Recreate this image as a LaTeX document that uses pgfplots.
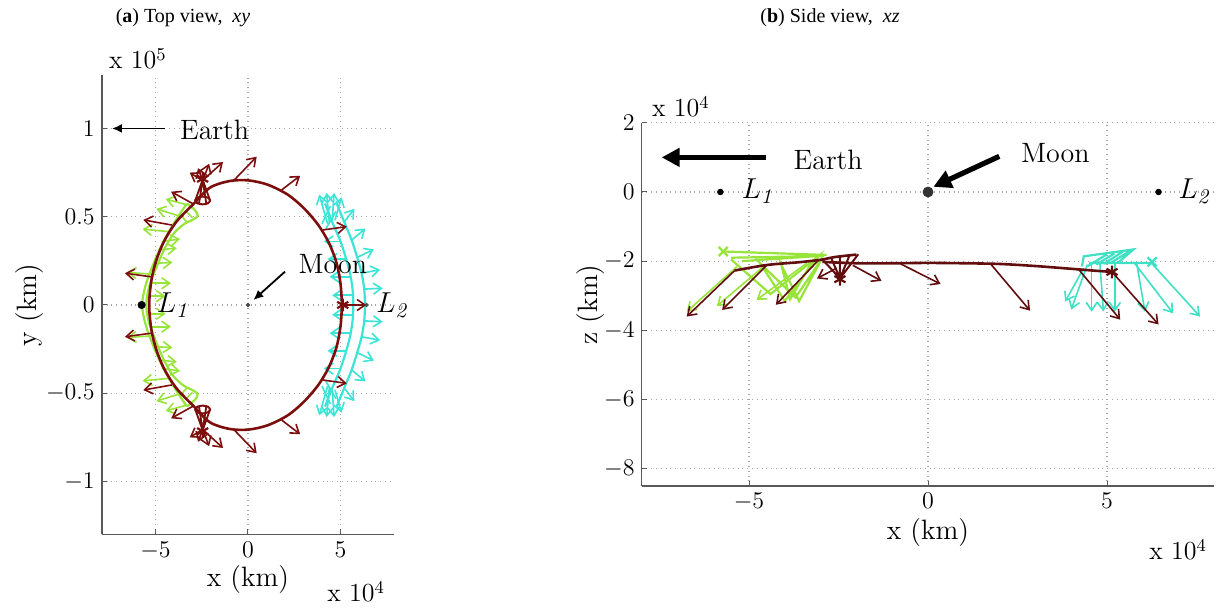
\documentclass[border=0pt]{standalone}
\usepackage{fontspec}
\usepackage{pgfplots}
\usepackage{pgfplotstable}
\pgfplotsset{compat=1.18}
\usetikzlibrary{arrows.meta}
\newfontfamily\tnr{Liberation Serif}

\definecolor{orbit}{RGB}{125,14,14}
\definecolor{orbitdk}{RGB}{98,14,14}
\definecolor{lime}{RGB}{152,228,58}
\definecolor{aqua}{RGB}{58,228,214}
\definecolor{aquab}{RGB}{64,224,196}

% all coordinates in units of 10^4 km
\pgfplotstableread{
x y
5.08 0
5.00 1.2
4.78 2.4
4.38 3.5
3.82 4.5
3.05 5.45
2.15 6.25
1.05 6.82
0.00 7.06
-1.00 7.02
-2.05 6.65
-2.95 5.72
-3.85 4.74
-4.50 3.68
-4.95 2.55
-5.22 1.40
-5.34 0
-5.22 -1.40
-4.95 -2.55
-4.50 -3.68
-3.85 -4.74
-2.95 -5.72
-2.05 -6.65
-1.00 -7.02
0.00 -7.06
1.05 -6.82
2.15 -6.25
3.05 -5.45
3.82 -4.5
4.38 -3.5
4.78 -2.4
5.00 -1.2
5.08 0
}\orbitxy

\pgfplotstableread{
x y u v
-0.80 7.02 1.27 1.38
1.82 6.52 1.00 0.80
-2.45 7.05 -0.70 0.45
-2.45 7.05 0.35 0.95
-2.45 7.05 1.10 1.05
-2.45 7.05 -0.25 0.70
-2.95 5.72 -1.20 0.70
-4.12 4.53 -1.54 0.29
-5.25 1.60 -1.40 0.20
4.05 4.25 1.29 0.19
5.10 0.00 1.30 0.00
-0.80 -7.02 1.27 -1.38
1.82 -6.52 1.00 -0.80
-2.45 -7.05 -0.70 -0.45
-2.45 -7.05 0.35 -0.95
-2.45 -7.05 1.10 -1.05
-2.45 -7.05 -0.25 -0.70
-2.95 -5.72 -1.20 -0.70
-4.12 -4.53 -1.54 -0.29
-5.25 -1.60 -1.40 -0.20
4.05 -4.25 1.29 -0.19
}\orbitarrowsxy

\pgfplotstableread{
x y u v
-3.40 5.70 -1.05 0.30
-3.75 5.05 -1.20 0.40
-4.25 4.15 -1.45 0.15
-5.25 1.75 -1.30 0.10
-4.67 3.59 1.00 0.15
-4.85 3.12 1.00 0.10
-5.03 2.36 0.95 0.05
-5.21 1.23 1.05 0.00
-5.45 0.50 1.00 0.00
-3.40 -5.70 -1.05 -0.30
-3.75 -5.05 -1.20 -0.40
-4.25 -4.15 -1.45 -0.15
-5.25 -1.75 -1.30 -0.10
-4.67 -3.59 1.00 -0.15
-4.85 -3.12 1.00 -0.10
-5.03 -2.36 0.95 -0.05
-5.21 -1.23 1.05 0.00
-5.45 -0.50 1.00 0.00
}\limearrowsxy

\pgfplotstableread{
x y u v
4.30 4.60 -0.45 1.65
4.40 4.60 -0.15 1.75
4.55 4.70 0.10 1.65
4.70 4.80 0.35 1.30
5.20 4.70 0.55 0.75
5.60 3.68 0.75 0.65
5.90 2.70 0.90 0.45
6.14 1.80 1.00 0.20
6.28 0.90 1.00 0.05
5.00 3.60 -0.90 0.00
5.30 2.60 -1.00 0.00
5.51 1.60 -1.10 0.00
5.65 0.55 -1.10 0.00
4.30 -4.60 -0.45 -1.65
4.40 -4.60 -0.15 -1.75
4.55 -4.70 0.10 -1.65
4.70 -4.80 0.35 -1.30
5.20 -4.70 0.55 -0.75
5.60 -3.68 0.75 -0.65
5.90 -2.70 0.90 -0.45
6.14 -1.80 1.00 -0.20
6.28 -0.90 1.00 -0.05
5.00 -3.60 -0.90 0.00
5.30 -2.60 -1.00 0.00
5.51 -1.60 -1.10 0.00
5.65 -0.55 -1.10 0.00
}\aquaarrowsxy

\pgfplotstableread{
x z u v
-5.40 -2.27 -1.34 -1.33
-4.50 -2.11 -1.25 -1.30
-3.05 -1.96 -1.20 -1.30
-2.55 -2.20 -0.55 -0.30
-2.10 -2.12 0.80 -0.45
-0.80 -2.06 1.15 -0.60
1.75 -2.08 1.10 -1.35
4.21 -2.24 1.16 -1.45
5.14 -2.31 1.30 -1.52
}\orbitarrowsxz

\pgfplotstableread{
x z u v
-5.34 -2.16 -1.40 -1.30
-4.60 -2.16 -1.30 -1.14
-3.39 -2.06 -1.40 -1.06
}\limearrowsxz

\pgfplotstableread{
x z u v
4.35 -2.20 -0.52 -0.97
4.45 -2.10 -0.45 -1.30
4.57 -2.10 0.00 -1.36
4.80 -2.05 0.10 -1.40
5.22 -2.06 0.00 -1.40
5.83 -2.06 0.23 -1.40
5.74 -2.02 1.11 -1.49
6.21 -2.02 1.39 -1.58
}\aquaarrowsxz

\pgfplotsset{
  panel/.style={
    scale only axis, anchor=south west, clip=false,
    axis x line*=bottom, axis y line*=left,
    axis line style={black!65, line width=0.7pt},
    tick align=inside, major tick length=2.5pt,
    tick style={black!65, line width=0.5pt},
    grid=major, major grid style={black!35, dotted, line width=0.6pt},
    tick label style={font=\fontsize{13}{15}\selectfont},
    label style={font=\fontsize{14}{16}\selectfont},
    xtick={-5,0,5},
    scaled ticks=false,
  },
  qv/.style={quiver={u=\thisrow{u},v=\thisrow{v}},
    line width=0.8pt, -{Straight Barb[length=4pt,width=5.5pt]}},
}

\begin{document}
\begin{tikzpicture}
\useasboundingbox (0,0) rectangle (610pt,304.5pt);

\node[font=\tnr\fontsize{10}{12}\selectfont] at (91.5pt,295.5pt) {(\textbf{a}) Top view,\ \ \textit{xy}};
\node[font=\tnr\fontsize{10}{12}\selectfont] at (415pt,295.5pt) {(\textbf{b}) Side view,\ \ \textit{xz}};

% ---------------- top view ----------------
\begin{axis}[panel,
  at={(50.9pt,37.25pt)}, width=146.2pt, height=229.5pt,
  xmin=-7.9, xmax=7.9, ymin=-13, ymax=13,
  ytick={-10,-5,0,5,10},
  yticklabels={$-1$,$-0.5$,$0$,$0.5$,$1$},
  xlabel={x (km)}, ylabel={y (km)},
  x label style={at={(axis description cs:0.5,-0.098)}, anchor=center},
  y label style={at={(axis description cs:-0.247,0.5)}, anchor=center},
]
% lime trajectory near L1
\addplot[lime, line width=1.1pt, smooth] coordinates {
 (-3.30,5.75) (-3.75,5.05) (-4.25,4.20) (-4.75,3.20) (-5.20,2.10) (-5.55,1.05) (-5.72,0)
 (-5.55,-1.05) (-5.20,-2.10) (-4.75,-3.20) (-4.25,-4.20) (-3.75,-5.05) (-3.30,-5.75)};
\addplot[lime, line width=1.1pt, smooth] coordinates {
 (-3.30,5.75) (-2.85,5.35) (-2.72,5.05) (-2.95,4.85) (-3.50,4.55) (-4.05,4.00) (-4.55,3.10)
 (-5.00,2.00) (-5.35,1.00) (-5.50,0) (-5.35,-1.00) (-5.00,-2.00) (-4.55,-3.10) (-4.05,-4.00)
 (-3.50,-4.55) (-2.95,-4.85) (-2.72,-5.05) (-2.85,-5.35) (-3.30,-5.75)};
\addplot[lime, line width=0.8pt, unbounded coords=jump] table {
x y
-3.0 4.95
-3.4 5.35
nan nan
-3.3 4.7
-3.7 5.15
nan nan
-3.0 -4.95
-3.4 -5.35
nan nan
-3.3 -4.7
-3.7 -5.15
};
\addplot[lime, qv] table[x=x,y=y] {\limearrowsxy};

% aqua trajectory near L2
\addplot[aqua, line width=1.1pt, smooth] coordinates {
 (4.16,5.76) (4.55,4.70) (4.97,3.68) (5.28,2.70) (5.51,1.80) (5.65,0.90) (5.69,0)
 (5.65,-0.90) (5.51,-1.80) (5.28,-2.70) (4.97,-3.68) (4.55,-4.70) (4.16,-5.76)};
\addplot[aqua, line width=1.1pt, smooth] coordinates {
 (4.79,5.76) (5.20,4.70) (5.60,3.68) (5.90,2.70) (6.14,1.80) (6.28,0.90) (6.32,0)
 (6.28,-0.90) (6.14,-1.80) (5.90,-2.70) (5.60,-3.68) (5.20,-4.70) (4.79,-5.76)};
\addplot[aqua, line width=0.8pt, unbounded coords=jump] table {
x y
4.0 4.6
4.45 5.6
nan nan
4.2 4.3
4.75 5.3
nan nan
4.0 -4.6
4.45 -5.6
nan nan
4.2 -4.3
4.75 -5.3
};
\addplot[aqua, qv] table[x=x,y=y] {\aquaarrowsxy};

% halo orbit and the two cones
\addplot[orbit, line width=1.3pt, smooth] table[x=x,y=y] {\orbitxy};
\addplot[orbit, line width=1pt, smooth cycle] coordinates {
 (-2.05,5.92) (-2.17,6.08) (-2.45,6.14) (-2.73,6.08) (-2.85,5.92) (-2.73,5.76) (-2.45,5.70) (-2.17,5.76)};
\addplot[orbit, line width=1pt, smooth cycle] coordinates {
 (-2.05,-5.92) (-2.17,-6.08) (-2.45,-6.14) (-2.73,-6.08) (-2.85,-5.92) (-2.73,-5.76) (-2.45,-5.70) (-2.17,-5.76)};
\addplot[orbit, line width=0.9pt, unbounded coords=jump] table {
x y
-2.85 5.92
-2.45 7.10
-2.05 5.92
nan nan
-2.65 5.72
-2.45 7.10
-2.25 5.72
nan nan
-2.85 -5.92
-2.45 -7.10
-2.05 -5.92
nan nan
-2.65 -5.72
-2.45 -7.10
-2.25 -5.72
};
\addplot[orbit, qv] table[x=x,y=y] {\orbitarrowsxy};
\addplot[orbit, only marks, mark=asterisk, mark size=3.2pt, line width=1.1pt] coordinates {(-2.45,7.15) (-2.45,-7.15) (5.12,0)};

% Earth, Moon and libration points
\addplot[black, line width=0.9pt, -{Latex[length=5pt,width=4.5pt]}] coordinates {(-4.50,10) (-7.35,10)};
\node[anchor=west, font=\fontsize{14}{16}\selectfont] at (axis cs:-4.05,9.9) {Earth};
\addplot[black, line width=0.9pt, -{Latex[length=5pt,width=4.5pt]}] coordinates {(2.00,1.89) (0.29,0.28)};
\node[anchor=west, font=\fontsize{14}{16}\selectfont] at (axis cs:2.35,2.3) {Moon};
\addplot[black!70, only marks, mark=*, mark size=0.9pt] coordinates {(0,0) (6.41,0)};
\addplot[black, only marks, mark=*, mark size=1.8pt] coordinates {(-5.75,0)};
\node[anchor=base west, font=\fontsize{15}{17}\selectfont] at (axis cs:-5.3,-0.45) {$L_{\mathit{1}}$};
\node[anchor=base west, font=\fontsize{15}{17}\selectfont] at (axis cs:6.55,-0.45) {$L_{\mathit{2}}$};
\end{axis}

% ---------------- side view ----------------
\begin{axis}[panel,
  at={(320.8pt,61.45pt)}, width=286.4pt, height=181.65pt,
  xmin=-8, xmax=8, ymin=-8.5, ymax=2,
  ytick={-8,-6,-4,-2,0,2},
  xlabel={x (km)}, ylabel={z (km)},
  x label style={at={(axis description cs:0.5,-0.127)}, anchor=center},
  y label style={at={(axis description cs:-0.09,0.5)}, anchor=center},
]
% lime trajectory
\addplot[lime, line width=1.1pt, unbounded coords=jump] table {
x z
-5.72 -1.72
-2.83 -1.82
nan nan
-5.50 -1.90
-2.90 -1.85
nan nan
-5.20 -2.00
-3.20 -1.86
nan nan
-5.50 -1.95
-4.40 -2.95
-3.05 -1.85
-4.00 -3.15
-4.70 -2.05
-3.70 -3.05
-2.95 -1.90
-3.60 -3.15
-4.10 -2.10
-3.85 -3.10
-3.20 -1.95
};
\addplot[lime, qv] table[x=x,y=z] {\limearrowsxz};
\addplot[lime, only marks, mark=x, mark size=3.2pt, line width=1.2pt] coordinates {(-5.72,-1.72)};

% aqua trajectory
\addplot[aquab, line width=1.1pt, unbounded coords=jump] table {
x z
4.30 -2.15
4.35 -1.86
5.74 -1.66
5.30 -2.05
nan nan
4.50 -2.05
6.30 -2.05
nan nan
4.45 -2.15
5.00 -1.80
nan nan
4.70 -2.10
5.20 -1.78
nan nan
4.90 -2.08
5.45 -1.72
nan nan
5.10 -2.05
5.65 -1.70
};
\addplot[aquab, qv] table[x=x,y=z] {\aquaarrowsxz};
\addplot[aquab, only marks, mark=x, mark size=3.2pt, line width=1.2pt] coordinates {(6.26,-2.02)};

% halo orbit seen from the side
\addplot[orbitdk, line width=1.3pt, smooth] coordinates {
 (-5.40,-2.27) (-4.50,-2.11) (-3.60,-2.03) (-3.00,-1.96) (-2.60,-1.88) (-2.00,-1.81)};
\addplot[orbitdk, line width=1.3pt, smooth] coordinates {
 (-2.95,-2.02) (-2.0,-2.06) (-1.0,-2.06) (0,-2.05) (1.0,-2.06) (2.0,-2.08) (3.0,-2.14) (4.0,-2.22) (4.6,-2.27) (5.14,-2.31)};
\addplot[orbitdk, line width=1pt, unbounded coords=jump] table {
x z
-2.95 -1.95
-2.46 -2.50
-1.95 -1.80
nan nan
-2.70 -1.92
-2.46 -2.50
-2.20 -1.85
nan nan
-2.46 -2.50
-2.46 -1.86
};
\addplot[orbitdk, qv] table[x=x,y=z] {\orbitarrowsxz};
\addplot[orbitdk, only marks, mark=asterisk, mark size=3.2pt, line width=1.1pt] coordinates {(-2.46,-2.52) (5.14,-2.31)};

% Earth, Moon and libration points
\addplot[black, line width=2.6pt, -{Triangle[length=9pt,width=9pt]}] coordinates {(-4.53,1.0) (-7.44,1.0)};
\node[anchor=west, font=\fontsize{14}{16}\selectfont] at (axis cs:-3.95,0.92) {Earth};
\addplot[black, line width=2.6pt, -{Triangle[length=9pt,width=9pt]}] coordinates {(1.99,1.03) (0.15,0.15)};
\node[anchor=west, font=\fontsize{14}{16}\selectfont] at (axis cs:2.4,1.12) {Moon};
\addplot[black, only marks, mark=*, mark size=1.4pt] coordinates {(-5.8,0) (6.44,0)};
\addplot[black!80, only marks, mark=*, mark size=2.5pt] coordinates {(0,0)};
\node[anchor=base west, font=\fontsize{15}{17}\selectfont] at (axis cs:-5.4,-0.2) {$L_{\mathit{1}}$};
\node[anchor=base west, font=\fontsize{15}{17}\selectfont] at (axis cs:6.8,-0.2) {$L_{\mathit{2}}$};
\end{axis}

% axis multipliers
\node[anchor=base west, font=\fontsize{13}{15}\selectfont] at (51pt,270pt) {x 10$^5$};
\node[anchor=base east, font=\fontsize{13}{15}\selectfont] at (196pt,3.5pt) {x 10$^4$};
\node[anchor=base west, font=\fontsize{13}{15}\selectfont] at (322.5pt,246pt) {x 10$^4$};
\node[anchor=base east, font=\fontsize{13}{15}\selectfont] at (607pt,24.5pt) {x 10$^4$};
\end{tikzpicture}
\end{document}
